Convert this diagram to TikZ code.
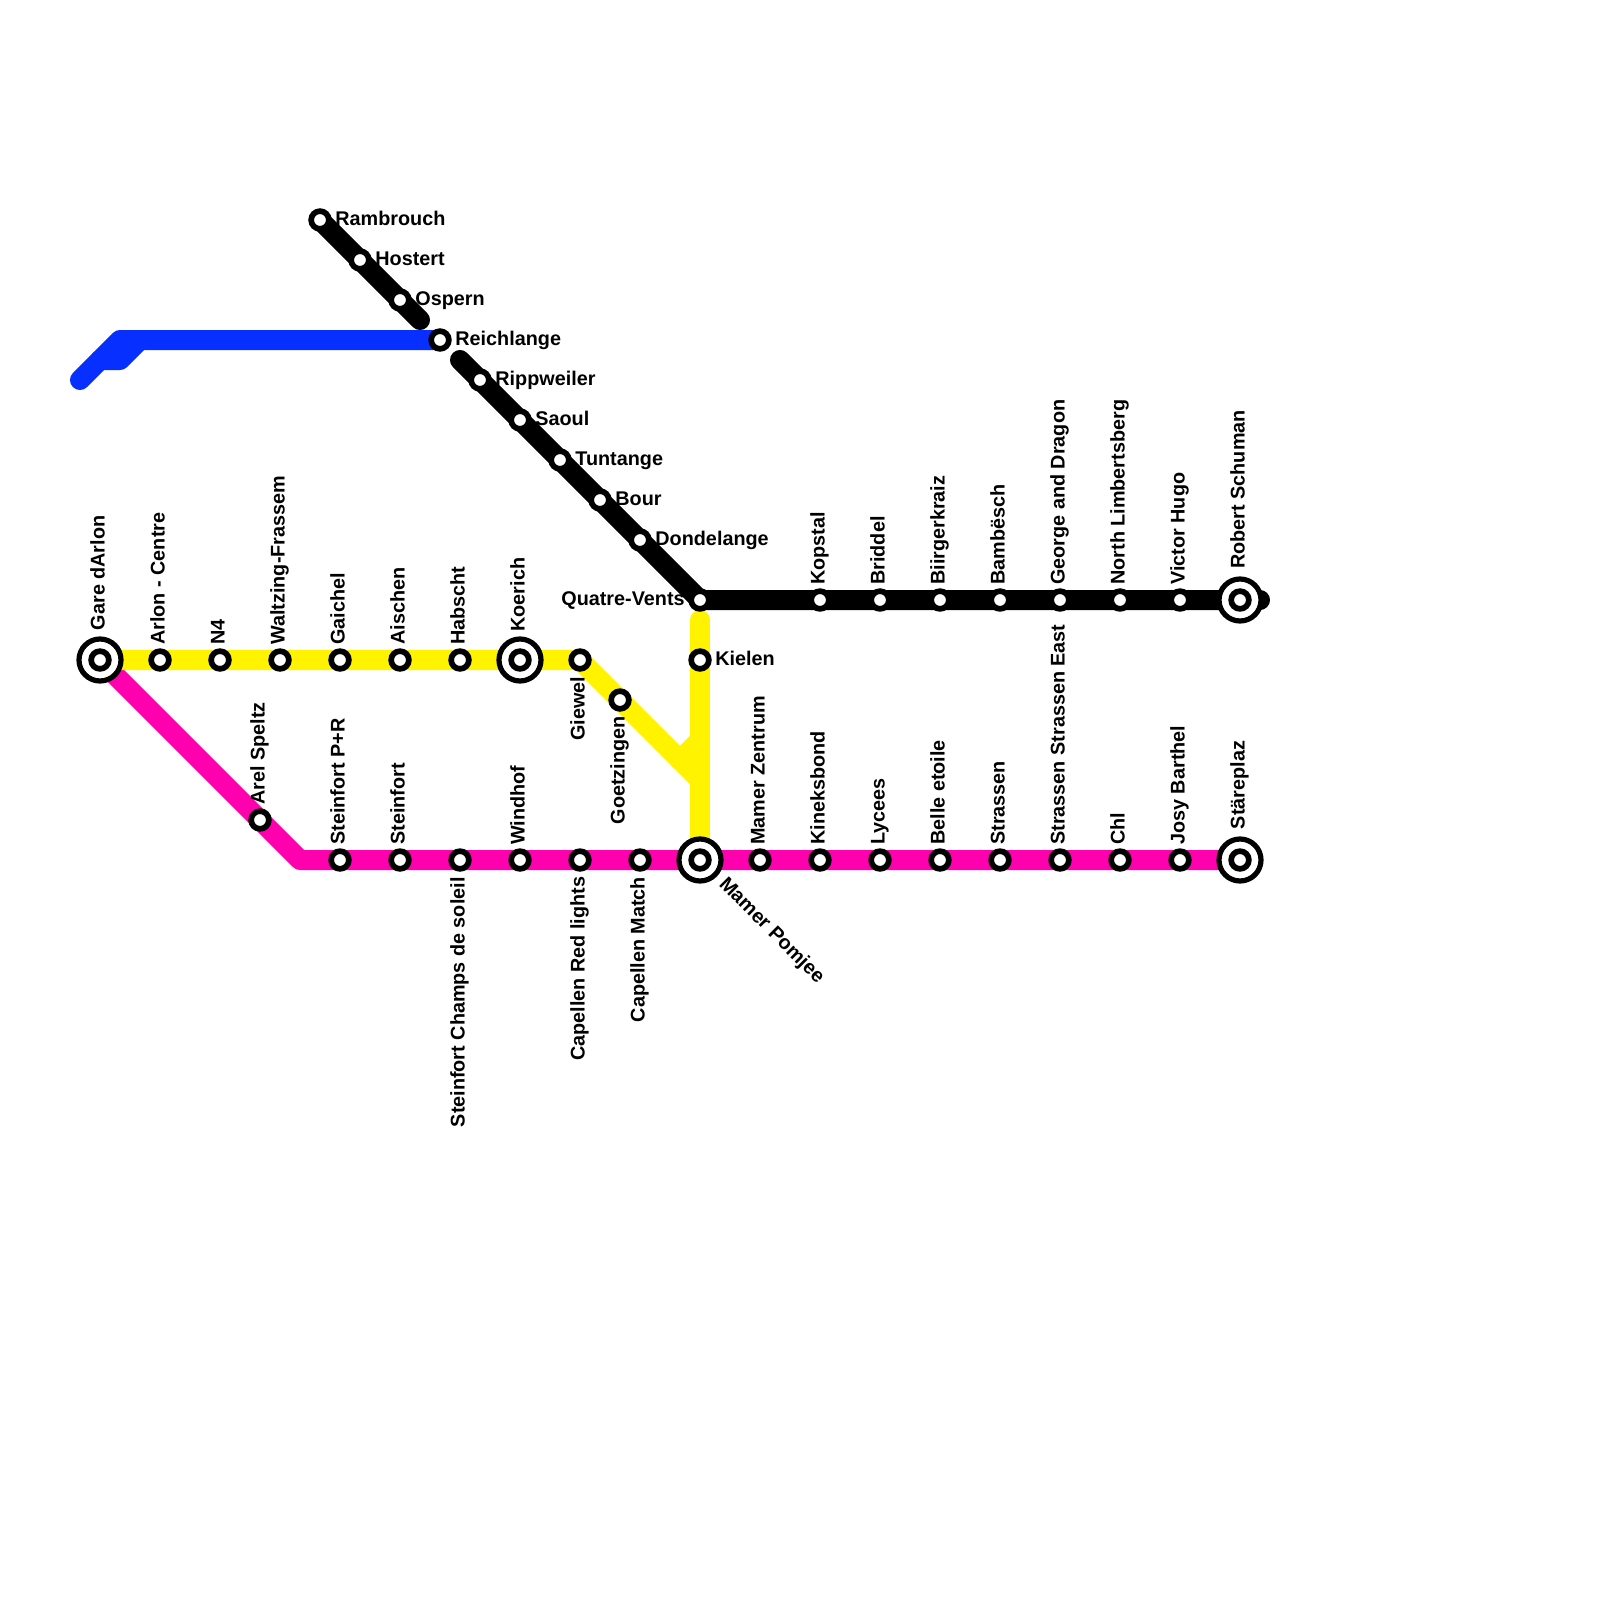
\documentclass[tikz,border=0pt]{standalone}
\usepackage{fontspec}
\setmainfont{Liberation Sans}
\usetikzlibrary{backgrounds}
\definecolor{linkblue}{RGB}{7,47,255}
\definecolor{linkyellow}{RGB}{255,243,0}
\definecolor{linkpink}{RGB}{255,0,174}
\tikzset{
  stop/.style={circle, draw=black, fill=white, line width=2.85pt, minimum size=8.85pt, inner sep=0pt},
  hub/.style={circle, draw=black, fill=white, line width=2.6pt, minimum size=21pt, inner sep=0pt},
  tag/.style={inner sep=0pt, font=\fontsize{9.9}{12}\selectfont\bfseries},
  uptag/.style={tag, rotate=90, anchor=base west},
  downtag/.style={tag, rotate=90, anchor=base east},
  sidetag/.style={tag, anchor=base west},
  link/.style={line width=10pt, line cap=round, line join=round}
}

\begin{document}
\begin{tikzpicture}[x=0.5pt, y=-0.5pt]
  \useasboundingbox (0,0) rectangle (1600,1600);

  % branch ends and bends
  \coordinate (blackgapa) at (420,320);
  \coordinate (blackgapb) at (460,360);
  \coordinate (blackend) at (1260,600);
  \coordinate (bluestart) at (80,380);
  \coordinate (bluebend) at (120,340);
  \coordinate (bluestub) at (100,360);
  \coordinate (bluestubb) at (120,360);
  \coordinate (bluestubc) at (140,340);
  \coordinate (pinkbend) at (300,860);
  \coordinate (yellowfork) at (680,760);
  \coordinate (yellowupper) at (700,740);
  \coordinate (yellowlower) at (700,780);
  \coordinate (yellowtop) at (700,620);

  % north branch
  \node[stop] (rambrouch) at (320,220) {};
  \node[stop] (hostert) at (360,260) {};
  \node[stop] (ospern) at (400,300) {};
  \node[stop] (reichlange) at (440,340) {};
  \node[stop] (rippweiler) at (480,380) {};
  \node[stop] (saoul) at (520,420) {};
  \node[stop] (tuntange) at (560,460) {};
  \node[stop] (bour) at (600,500) {};
  \node[stop] (dondelange) at (640,540) {};
  \node[stop] (quatrevents) at (700,600) {};
  \node[stop] (kopstal) at (820,600) {};
  \node[stop] (briddel) at (880,600) {};
  \node[stop] (biirgerkraiz) at (940,600) {};
  \node[stop] (bambesch) at (1000,600) {};
  \node[stop] (george) at (1060,600) {};
  \node[stop] (limbertsberg) at (1120,600) {};
  \node[stop] (victorhugo) at (1180,600) {};
  \node[hub] (schuman) at (1240,600) {};
  \node[stop] (schumanin) at (1240,600) {};

  % yellow row
  \node[hub] (gare) at (100,660) {};
  \node[stop] (garein) at (100,660) {};
  \node[stop] (arlon) at (160,660) {};
  \node[stop] (nfour) at (220,660) {};
  \node[stop] (waltzing) at (280,660) {};
  \node[stop] (gaichel) at (340,660) {};
  \node[stop] (aischen) at (400,660) {};
  \node[stop] (habscht) at (460,660) {};
  \node[hub] (koerich) at (520,660) {};
  \node[stop] (koerichin) at (520,660) {};
  \node[stop] (giewel) at (580,660) {};
  \node[stop] (goetzingen) at (620,700) {};
  \node[stop] (kielen) at (700,660) {};

  % pink row
  \node[stop] (arel) at (260,820) {};
  \node[stop] (steinfortpr) at (340,860) {};
  \node[stop] (steinfort) at (400,860) {};
  \node[stop] (champs) at (460,860) {};
  \node[stop] (windhof) at (520,860) {};
  \node[stop] (redlights) at (580,860) {};
  \node[stop] (match) at (640,860) {};
  \node[hub] (pomjee) at (700,860) {};
  \node[stop] (pomjeein) at (700,860) {};
  \node[stop] (zentrum) at (760,860) {};
  \node[stop] (kineksbond) at (820,860) {};
  \node[stop] (lycees) at (880,860) {};
  \node[stop] (belleetoile) at (940,860) {};
  \node[stop] (strassen) at (1000,860) {};
  \node[stop] (strasseneast) at (1060,860) {};
  \node[stop] (chl) at (1120,860) {};
  \node[stop] (barthel) at (1180,860) {};
  \node[hub] (stareplaz) at (1240,860) {};
  \node[stop] (stareplazin) at (1240,860) {};

  % lines
  \begin{scope}[on background layer]
    \draw[link, black] (rambrouch.center) -- (blackgapa);
    \draw[link, black] (blackgapb) -- (quatrevents.center) -- (blackend);
    \draw[link, linkpink] (gare.center) -- (pinkbend) -- (stareplaz.center);
    \draw[link, linkyellow] (gare.center) -- (giewel.center) -- (yellowfork) -- (yellowlower);
    \draw[link, linkyellow] (yellowupper) -- (yellowfork);
    \draw[link, linkyellow] (yellowtop) -- (pomjee.center);
    \draw[link, linkblue] (bluestart) -- (bluebend) -- (reichlange.center);
    \draw[link, linkblue] (bluestub) -- (bluestubb) -- (bluestubc);
  \end{scope}

  % names
  \node[sidetag] (rambrouchtag) at (335,225) {Rambrouch};
  \node[sidetag] (hosterttag) at (375,265) {Hostert};
  \node[sidetag] (osperntag) at (415,305) {Ospern};
  \node[sidetag] (reichlangetag) at (455,345) {Reichlange};
  \node[sidetag] (rippweilertag) at (495,385) {Rippweiler};
  \node[sidetag] (saoultag) at (535,425) {Saoul};
  \node[sidetag] (tuntangetag) at (575,465) {Tuntange};
  \node[sidetag] (bourtag) at (615,505) {Bour};
  \node[sidetag] (dondelangetag) at (655,545) {Dondelange};
  \node[sidetag] (kielentag) at (715,665) {Kielen};
  \node[tag, anchor=base east] (quatreventstag) at (685,605) {Quatre-Vents};

  \node[uptag] (garetag) at (104.5,630.5) {Gare dArlon};
  \node[uptag] (arlontag) at (164.5,645) {Arlon - Centre};
  \node[uptag] (nfourtag) at (224.5,645) {N4};
  \node[uptag] (waltzingtag) at (284.5,645) {Waltzing-Frassem};
  \node[uptag] (gaicheltag) at (344.5,645) {Gaichel};
  \node[uptag] (aischentag) at (404.5,645) {Aischen};
  \node[uptag] (habschttag) at (464.5,645) {Habscht};
  \node[uptag] (koerichtag) at (524.5,632) {Koerich};

  \node[uptag] (kopstaltag) at (824.5,585) {Kopstal};
  \node[uptag] (briddeltag) at (884.5,585) {Briddel};
  \node[uptag] (biirgerkraiztag) at (944.5,585) {Biirgerkraiz};
  \node[uptag] (bambeschtag) at (1004.5,585) {Bambësch};
  \node[uptag] (georgetag) at (1064.5,585) {George and Dragon};
  \node[uptag] (limbertsbergtag) at (1124.5,585) {North Limbertsberg};
  \node[uptag] (victorhugotag) at (1184.5,585) {Victor Hugo};
  \node[uptag] (schumantag) at (1244.5,569) {Robert Schuman};

  \node[uptag] (areltag) at (264.5,805) {Arel Speltz};
  \node[uptag] (steinfortprtag) at (344.5,845) {Steinfort P+R};
  \node[uptag] (steinforttag) at (404.5,845) {Steinfort};
  \node[uptag] (windhoftag) at (524.5,845) {Windhof};
  \node[uptag] (zentrumtag) at (764.5,845) {Mamer Zentrum};
  \node[uptag] (kineksbondtag) at (824.5,845) {Kineksbond};
  \node[uptag] (lyceestag) at (884.5,845) {Lycees};
  \node[uptag] (belleetoiletag) at (944.5,845) {Belle etoile};
  \node[uptag] (strassentag) at (1004.5,845) {Strassen};
  \node[uptag] (strasseneasttag) at (1064.5,845) {Strassen Strassen East};
  \node[uptag] (chltag) at (1124.5,845) {Chl};
  \node[uptag] (bartheltag) at (1184.5,845) {Josy Barthel};
  \node[uptag] (stareplaztag) at (1244.5,829.5) {Stäreplaz};

  \node[downtag] (giewetag) at (584.5,676.5) {Giewel};
  \node[downtag] (goetzingentag) at (624.5,716) {Goetzingen};
  \node[downtag] (champstag) at (464.5,877) {Steinfort Champs de soleil};
  \node[downtag] (redlightstag) at (584.5,876.5) {Capellen Red lights};
  \node[downtag] (matchtag) at (644.5,876.5) {Capellen Match};
  \node[tag, rotate=-45, anchor=base west] (pomjeetag) at (718,885) {Mamer Pomjee};
\end{tikzpicture}
\end{document}
